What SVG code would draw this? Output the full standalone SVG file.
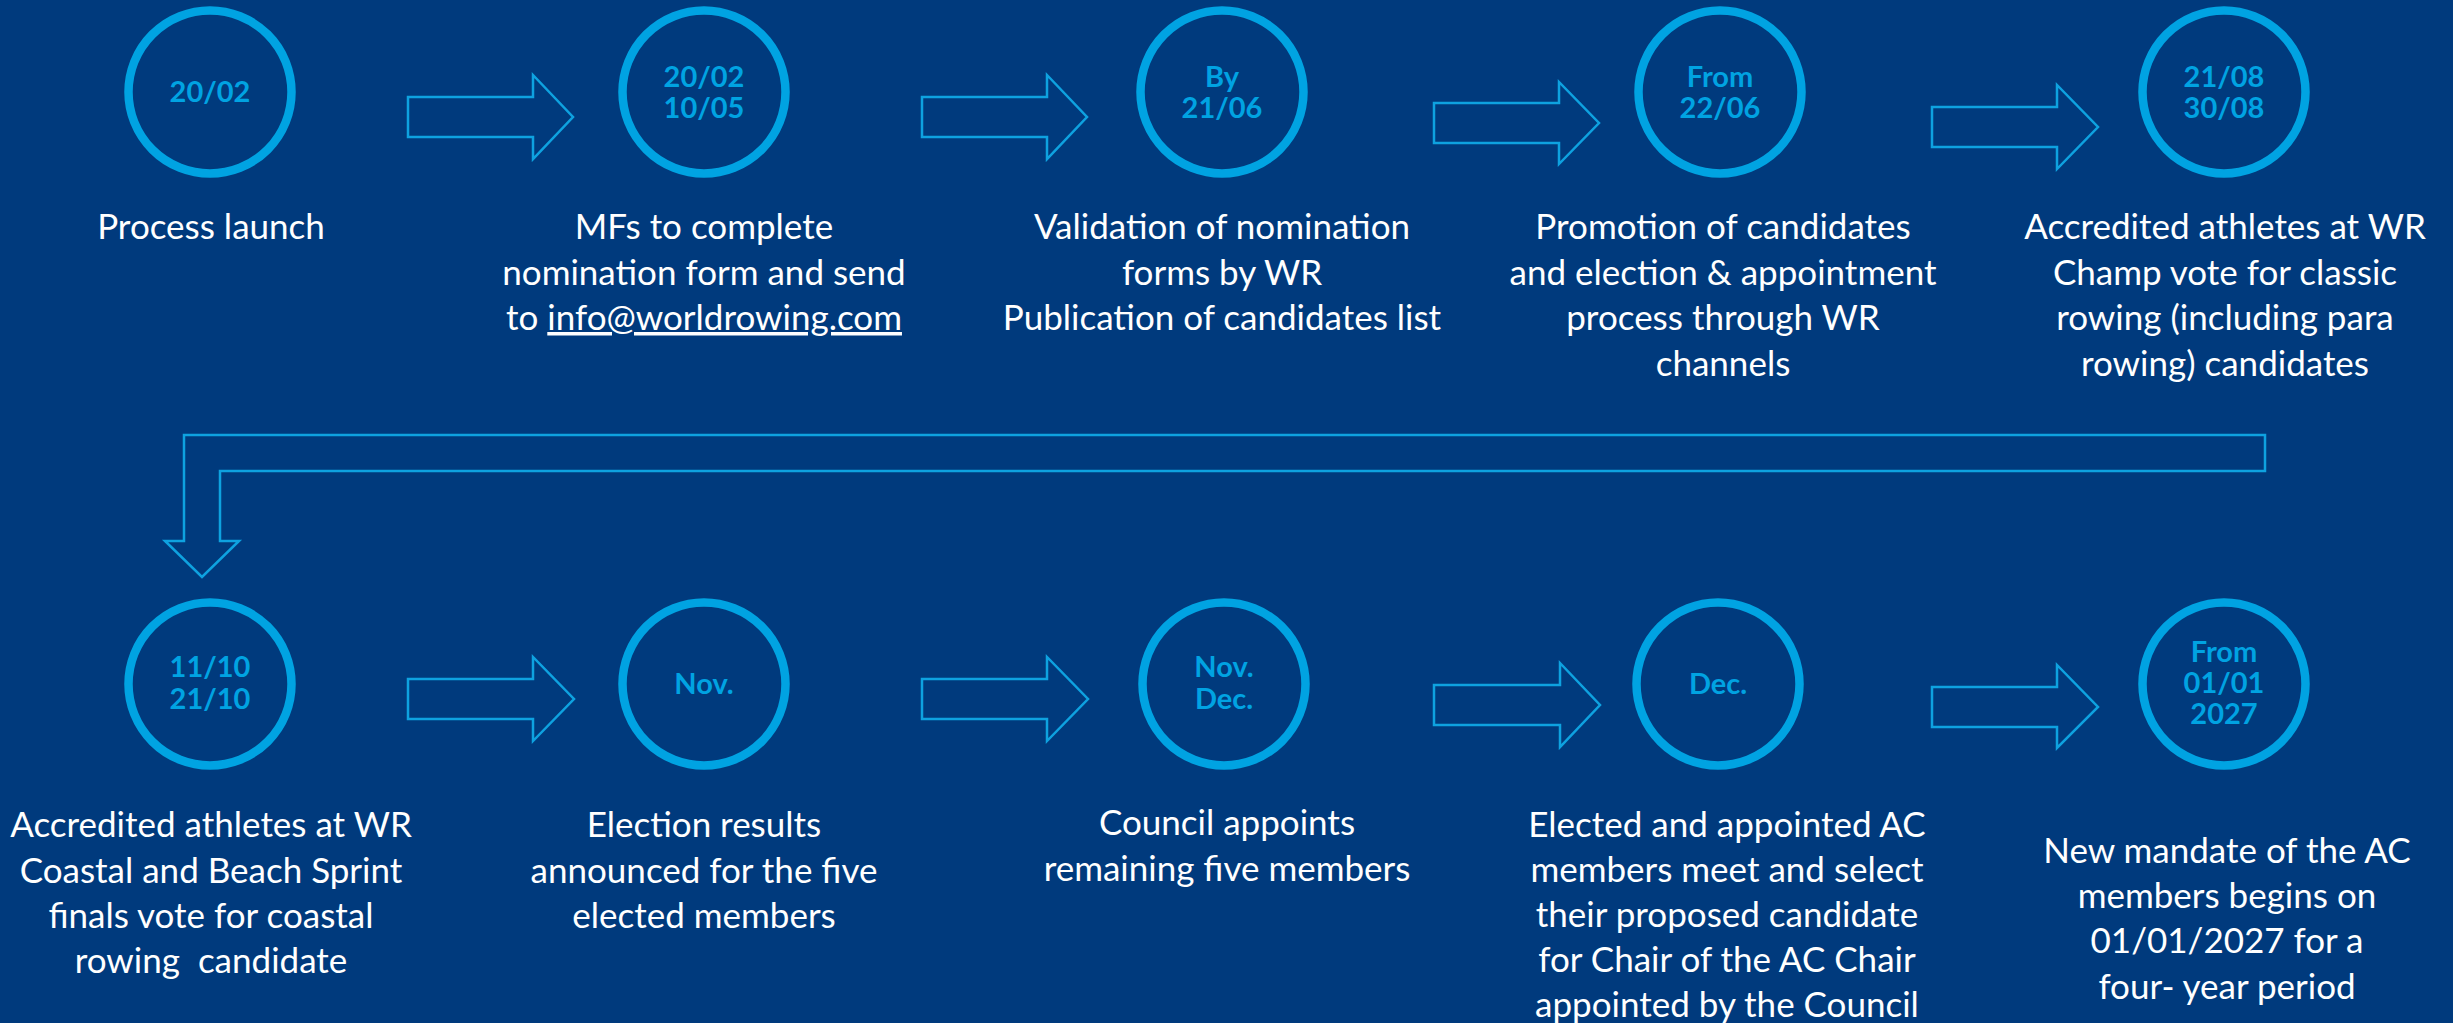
<svg xmlns="http://www.w3.org/2000/svg" width="2453" height="1023" viewBox="0 0 2453 1023">
<style>
.bg{fill:#003a7d}
.c{fill:none;stroke:#00a3e2;stroke-width:8.5}
.d{font-family:Lato,"Liberation Sans",sans-serif;font-weight:bold;font-size:29px;fill:#00a3e2;text-anchor:middle}
.t{font-family:Lato,"Liberation Sans",sans-serif;font-size:35px;fill:#ffffff;text-anchor:middle}
.a{fill:none;stroke:#0ea2e0;stroke-width:2.5;stroke-linejoin:miter}
</style>
<rect class="bg" x="0" y="0" width="2453" height="1023"/>
<g id="connectors">
<polygon class="a" points="408,97 533,97 533,75 573,117 533,159 533,137 408,137"/>
<polygon class="a" points="922,97 1047,97 1047,75 1087,117 1047,159 1047,137 922,137"/>
<polygon class="a" points="1434,103 1559,103 1559,82 1599,123 1559,164 1559,143 1434,143"/>
<polygon class="a" points="1932,107 2057,107 2057,85 2098,127 2057,169 2057,147 1932,147"/>
<polygon class="a" points="2265,435 184,435 184,541 165,541 202,577 239,541 220,541 220,471 2265,471"/>
<polygon class="a" points="408,679 533,679 533,657 574,699 533,741 533,719 408,719"/>
<polygon class="a" points="922,679 1047,679 1047,657 1088,699 1047,741 1047,719 922,719"/>
<polygon class="a" points="1434,685 1560,685 1560,663 1600,705 1560,747 1560,725 1434,725"/>
<polygon class="a" points="1932,687 2057,687 2057,665 2098,707 2057,748 2057,727 1932,727"/>
</g>
<g id="n1">
<circle class="c" cx="210" cy="92" r="81.5"/>
<text class="d" x="210" y="102">20/02</text>
<text class="t" x="211" y="239">Process launch</text>
</g>
<g id="n2">
<circle class="c" cx="704" cy="92" r="81.5"/>
<text class="d" x="704" y="87">20/02</text>
<text class="d" x="704" y="118">10/05</text>
<text class="t" x="704" y="239">MFs to complete</text>
<text class="t" x="704" y="285">nomination form and send</text>
<text class="t" x="704" y="330">to <tspan text-decoration="underline">info@worldrowing.com</tspan></text>
</g>
<g id="n3">
<circle class="c" cx="1222" cy="92" r="81.5"/>
<text class="d" x="1222" y="87">By</text>
<text class="d" x="1222" y="118">21/06</text>
<text class="t" x="1222" y="239">Validation of nomination</text>
<text class="t" x="1222" y="285">forms by WR</text>
<text class="t" x="1222" y="330">Publication of candidates list</text>
</g>
<g id="n4">
<circle class="c" cx="1720" cy="92" r="81.5"/>
<text class="d" x="1720" y="87">From</text>
<text class="d" x="1720" y="118">22/06</text>
<text class="t" x="1723" y="239">Promotion of candidates</text>
<text class="t" x="1723" y="285">and election &amp; appointment</text>
<text class="t" x="1723" y="330">process through WR</text>
<text class="t" x="1723" y="376">channels</text>
</g>
<g id="n5">
<circle class="c" cx="2224" cy="92" r="81.5"/>
<text class="d" x="2224" y="87">21/08</text>
<text class="d" x="2224" y="118">30/08</text>
<text class="t" x="2225" y="239">Accredited athletes at WR</text>
<text class="t" x="2225" y="285">Champ vote for classic</text>
<text class="t" x="2225" y="330">rowing (including para</text>
<text class="t" x="2225" y="376">rowing) candidates</text>
</g>
<g id="n6">
<circle class="c" cx="210" cy="684" r="81.5"/>
<text class="d" x="210" y="677">11/10</text>
<text class="d" x="210" y="709">21/10</text>
<text class="t" x="211" y="837">Accredited athletes at WR</text>
<text class="t" x="211" y="883">Coastal and Beach Sprint</text>
<text class="t" x="211" y="928">finals vote for coastal</text>
<text class="t" x="211" y="973">rowing&#160; candidate</text>
</g>
<g id="n7">
<circle class="c" cx="704" cy="684" r="81.5"/>
<text class="d" x="704" y="694">Nov.</text>
<text class="t" x="704" y="837">Election results</text>
<text class="t" x="704" y="883">announced for the five</text>
<text class="t" x="704" y="928">elected members</text>
</g>
<g id="n8">
<circle class="c" cx="1224" cy="684" r="81.5"/>
<text class="d" x="1224" y="677">Nov.</text>
<text class="d" x="1224" y="709">Dec.</text>
<text class="t" x="1227" y="835">Council appoints</text>
<text class="t" x="1227" y="881">remaining five members</text>
</g>
<g id="n9">
<circle class="c" cx="1718" cy="684" r="81.5"/>
<text class="d" x="1718" y="694">Dec.</text>
<text class="t" x="1727" y="837">Elected and appointed AC</text>
<text class="t" x="1727" y="882">members meet and select</text>
<text class="t" x="1727" y="927">their proposed candidate</text>
<text class="t" x="1727" y="972">for Chair of the AC Chair</text>
<text class="t" x="1727" y="1017">appointed by the Council</text>
</g>
<g id="n10">
<circle class="c" cx="2224" cy="684" r="81.5"/>
<text class="d" x="2224" y="662">From</text>
<text class="d" x="2224" y="693">01/01</text>
<text class="d" x="2224" y="724">2027</text>
<text class="t" x="2227" y="863">New mandate of the AC</text>
<text class="t" x="2227" y="908">members begins on</text>
<text class="t" x="2227" y="953">01/01/2027 for a</text>
<text class="t" x="2227" y="999">four- year period</text>
</g>
</svg>
